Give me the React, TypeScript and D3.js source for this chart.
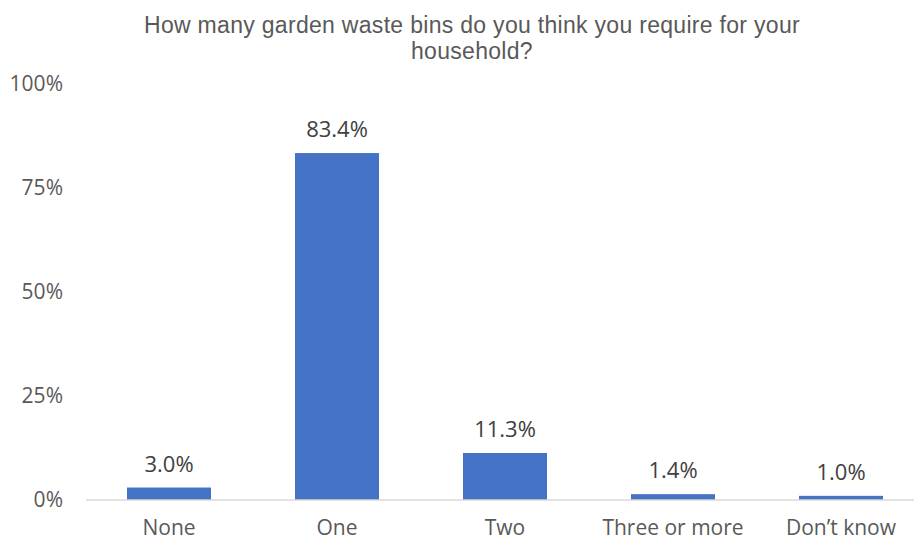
import React from "react";
import * as d3 from "d3";

const categories = ["None", "One", "Two", "Three or more", "Don\u2019t know"];
const values = [3.0, 83.4, 11.3, 1.4, 1.0];
const yTicks = [0, 25, 50, 75, 100];
const titleLines = ["How many garden waste bins do you think you require for your", "household?"];

export default function App() {
  const width = 914;
  const height = 540;
  const x = d3.scaleBand<string>().domain(categories).range([85, 925]).paddingInner(0.5).paddingOuter(0.25);
  const y = d3.scaleLinear().domain([0, 100]).range([500, 84]);
  const labelFont = "'Open Sans', Lato, sans-serif";
  return (
    <svg width={width} height={height} style={{ position: "absolute", left: 0, top: 0, background: "#fff" }}>
      {titleLines.map((t, i) => (
        <text key={i} x={472} y={33 + i * 26} textAnchor="middle" fontFamily="'Liberation Sans', Arial, sans-serif" fontSize={23} letterSpacing={0.3} fill="#595959">
          {t}
        </text>
      ))}
      {yTicks.map((t) => (
        <text key={t} x={63} y={y(t)} dy="0.35em" textAnchor="end" fontFamily={labelFont} fontSize={21} fill="#595959">
          {t}%
        </text>
      ))}
      {categories.map((c, i) => (
        <g key={c}>
          <rect x={x(c)} y={y(values[i])} width={x.bandwidth()} height={y(0) - y(values[i])} fill="#4472C4" />
          <text x={(x(c) as number) + x.bandwidth() / 2} y={y(values[i]) - 16} textAnchor="middle" fontFamily={labelFont} fontSize={22} fill="#404040">
            {values[i].toFixed(1)}%
          </text>
          <text x={(x(c) as number) + x.bandwidth() / 2} y={535} textAnchor="middle" fontFamily={labelFont} fontSize={21} fill="#595959">
            {c}
          </text>
        </g>
      ))}
      <line x1={86} x2={914} y1={y(0)} y2={y(0)} stroke="#d9d9d9" strokeWidth={1.5} />
    </svg>
  );
}
